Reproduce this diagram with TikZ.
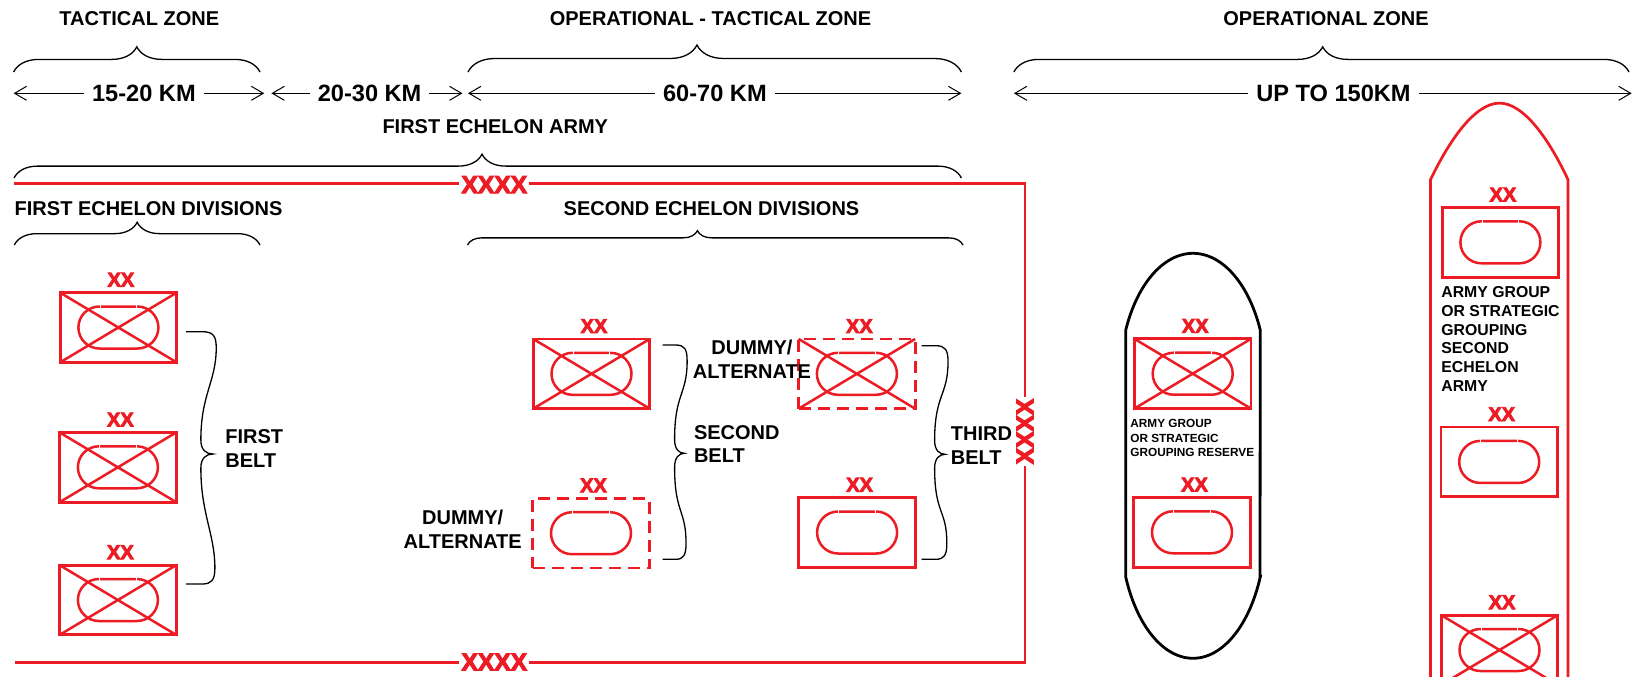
\documentclass[tikz,border=0pt]{standalone}
\usepackage{fontspec}
\setmainfont{Liberation Sans}
\newfontfamily\xxfont[BoldFeatures={FakeBold=4}]{Liberation Sans}
\usetikzlibrary{arrows.meta,decorations.pathreplacing,shapes.misc}
\definecolor{milred}{RGB}{237,28,36}
\newcommand{\fsz}[2]{\fontsize{#1}{#2}\selectfont\bfseries}
\newcommand{\xsz}[2]{\xxfont\fontsize{#1}{#2}\selectfont\bfseries}
\newcommand{\divunit}[4]{%
  \node[#4] (#1) at (#2,#3) {};
  \node[oval] (#1o) at (#1.center) {};
  \draw[gapln] ([xshift=-9.2pt,yshift=1.6pt]#1o.north) -- ([xshift=-9.2pt,yshift=-1.6pt]#1o.north);
  \draw[gapln] ([xshift=9.2pt,yshift=1.6pt]#1o.north) -- ([xshift=9.2pt,yshift=-1.6pt]#1o.north);
  \node[xxlbl] (#1xx) at ([xshift=1.25pt,yshift=6.45pt]#1.north) {XX};
}
\newcommand{\xdiag}[1]{\draw[xline] (#1.north west) -- (#1.south east) (#1.south west) -- (#1.north east);}
\newcommand{\beltbrace}[5]{%
  \draw[brc] (#1,#2) -- ({#1+0.6*#5},#2)
    .. controls ({#1+1.0*#5},#2) and ({#1+1.12*#5},{#2+4}) .. ({#1+1.12*#5},{#2+16})
    .. controls ({#1+1.12*#5},{#2+50}) and ({#1+0.55*#5},{#3-60}) .. ({#1+0.55*#5},{#3-14})
    .. controls ({#1+0.55*#5},{#3-4}) and ({#1+0.75*#5},#3) .. ({#1+#5},#3)
    .. controls ({#1+0.75*#5},#3) and ({#1+0.55*#5},{#3+4}) .. ({#1+0.55*#5},{#3+14})
    .. controls ({#1+0.55*#5},{#3+60}) and ({#1+1.07*#5},{#4-50}) .. ({#1+1.07*#5},{#4-16})
    .. controls ({#1+1.07*#5},{#4-4}) and ({#1+0.95*#5},#4) .. ({#1+0.6*#5},#4)
    -- (#1,#4);
}
\begin{document}
\begin{tikzpicture}[x=0.5pt,y=-0.5pt,
  hdr/.style={font=\fsz{10}{12},inner sep=0pt},
  kmlbl/.style={font=\fsz{11.8}{14},fill=white,inner xsep=4pt,inner ysep=1pt},
  xxxx/.style={font=\xsz{12.3}{15},text=milred,fill=white,inner xsep=1pt,inner ysep=0.5pt},
  xxlbl/.style={font=\xsz{10}{12},text=milred,inner sep=0pt},
  belttxt/.style={font=\fsz{10}{11.8},align=left,inner sep=0pt,anchor=north west},
  dummytxt/.style={font=\fsz{10}{12},align=center,inner sep=0pt,anchor=north},
  dimarrow/.style={draw=black,line width=0.5pt,{Straight Barb[length=6pt,width=7pt]}-{Straight Barb[length=6pt,width=7pt]}},
  brc/.style={draw=black,line width=0.65pt},
  unitbox/.style={rectangle,draw=milred,line width=1.4pt,minimum width=58.25pt,minimum height=34.85pt,inner sep=0pt,outer sep=0pt},
  dashbox/.style={unitbox,dash pattern=on 6pt off 3.5pt},
  oval/.style={rounded rectangle,draw=milred,line width=1.25pt,minimum width=40pt,minimum height=21pt,inner sep=0pt,outer sep=0pt},
  xline/.style={draw=milred,line width=1.25pt},
  gapln/.style={draw=white,line width=0.5pt},
  armyln/.style={draw=milred,line width=1.35pt},
  capsln/.style={draw=black,line width=1.4pt}
]
\useasboundingbox (0,0) rectangle (1635,676);
\fill[white] (0,0) rectangle (1635,676);
\clip (0,0) rectangle (1635,676);

% headers
\node[hdr,anchor=base] (h1) at (139.3,25) {TACTICAL ZONE};
\node[hdr,anchor=base] (h2) at (710.5,25) {OPERATIONAL - TACTICAL ZONE};
\node[hdr,anchor=base] (h3) at (1326,25) {OPERATIONAL ZONE};
\node[hdr,anchor=base] (h4) at (495.3,133) {FIRST ECHELON ARMY};
\node[hdr,anchor=base west] (h5) at (14.3,215) {FIRST ECHELON DIVISIONS};
\node[hdr,anchor=base] (h6) at (711.5,215) {SECOND ECHELON DIVISIONS};

% braces (horizontal)
\draw[brc,decorate,decoration={brace,amplitude=12.6pt,aspect=0.5}] (13.6,72) -- (260,72);
\draw[brc,decorate,decoration={brace,amplitude=13.5pt,aspect=0.464}] (468,72) -- (961.4,72);
\draw[brc,decorate,decoration={brace,amplitude=12.6pt,aspect=0.502}] (1013.9,72) -- (1629,72);
\draw[brc,decorate,decoration={brace,amplitude=11.9pt,aspect=0.494}] (14,178) -- (961.4,178);
\draw[brc,decorate,decoration={brace,amplitude=11.35pt,aspect=0.5}] (14.3,245) -- (260,245);
\draw[brc,decorate,decoration={brace,amplitude=7.15pt,aspect=0.464}] (467.5,245) -- (963,245);

% distance arrows
\coordinate (d1a) at (13.6,93.3); \coordinate (d1b) at (264.3,93.3);
\coordinate (d2a) at (271.4,93.3); \coordinate (d2b) at (462.5,93.3);
\coordinate (d3a) at (468,93.3); \coordinate (d3b) at (961.4,93.3);
\coordinate (d4a) at (1013.9,93.3); \coordinate (d4b) at (1631.7,93.3);
\draw[dimarrow] (d1a) -- (d1b);
\draw[dimarrow] (d2a) -- (d2b);
\draw[dimarrow] (d3a) -- (d3b);
\draw[dimarrow] (d4a) -- (d4b);
\node[kmlbl] (d1t) at (143.9,93.3) {15-20 KM};
\node[kmlbl] (d2t) at (369.6,93.3) {20-30 KM};
\node[kmlbl] (d3t) at (714.9,93.3) {60-70 KM};
\node[kmlbl] (d4t) at (1333.5,93.8) {UP TO 150KM};

% army boundary
\coordinate (btl) at (14.3,183.7);
\coordinate (btr) at (1025,183.7);
\coordinate (bbr) at (1025,662.7);
\coordinate (bbl) at (15,662.7);
\draw[armyln] (btl) -- (btr) -- (bbr) -- (bbl);
\node[xxxx] (xt) at (494.3,184.7) {XXXX};
\node[xxxx] (xb) at (494.3,662) {XXXX};
\node[xxxx,rotate=90] (xr) at (1025,431.5) {XXXX};

% reserve capsule (black)
\draw[capsln] plot[domain=156.8:23.2,samples=60] ({1193+73.2*cos(\x)},{380-126.7*sin(\x)})
  -- (1260,576.7)
  -- plot[domain=-22.3:-157.7,samples=60] ({1193+72.8*cos(\x)},{526.7-131.6*sin(\x)}) -- cycle;

% second echelon army shape (red)
\draw[armyln] (1430.5,690) -- (1430.5,179.7) .. controls (1449.5,140) and (1475,103.1) .. (1499.5,103.1)
  .. controls (1524,103.1) and (1549.5,140) .. (1568,179.7) -- (1568,690);

% units
\divunit{u1}{118.4}{327.5}{unitbox} \xdiag{u1}
\divunit{u2}{117.9}{467.3}{unitbox} \xdiag{u2}
\divunit{u3}{117.9}{600}{unitbox} \xdiag{u3}
\divunit{ua}{591.5}{373.8}{unitbox} \xdiag{ua}
\divunit{ub}{856.9}{373.8}{dashbox} \xdiag{ub}
\divunit{uc}{591}{533.2}{dashbox}
\divunit{ud}{857.1}{532.5}{unitbox}
\divunit{ue}{1192.7}{373.7}{unitbox} \xdiag{ue}
\divunit{uf}{1192}{532.3}{unitbox}
\divunit{ug}{1500.4}{242.3}{unitbox}
\divunit{uh}{1499.2}{461.9}{unitbox}
\divunit{ui}{1499.5}{650}{unitbox} \xdiag{ui}

% belt braces
\beltbrace{186}{331.7}{454}{584}{27}
\beltbrace{662.5}{345}{453.3}{559.3}{22}
\beltbrace{921.7}{345.7}{454.3}{559.3}{23.5}

% texts
\node[belttxt] (t1) at (225,429.3) {FIRST\\BELT};
\node[belttxt] (t2) at (693.6,425) {SECOND\\BELT};
\node[belttxt] (t3) at (950.5,426.7) {THIRD\\BELT};
\node[dummytxt] (dm1) at (752,339.3) {DUMMY/\\ALTERNATE};
\node[dummytxt] (dm2) at (462.7,509.3) {DUMMY/\\ALTERNATE};
\node[font=\fsz{5.9}{7.25},align=left,inner sep=0pt,anchor=north west] (cp1) at (1130,419.3) {ARMY GROUP\\OR STRATEGIC\\GROUPING RESERVE};
\node[font=\fsz{7.9}{9.34},align=left,inner sep=0pt,anchor=north west] (cp2) at (1441,286.2) {ARMY GROUP\\OR STRATEGIC\\GROUPING\\SECOND\\ECHELON\\ARMY};
\end{tikzpicture}
\end{document}
